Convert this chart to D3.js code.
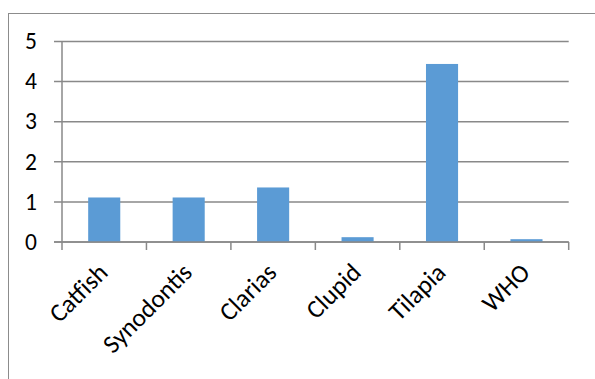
<!DOCTYPE html>
<script src="https://cdn.jsdelivr.net/npm/d3@7"></script>
<style>
  body{ margin:0; background:white; }
  text{ font-family: Carlito, "Open Sans", "Liberation Sans", sans-serif; fill:black; }
</style>
<body>
<script>
    var width = 595;
    var height = 379;

    // data
    var categories = ["Catfish", "Synodontis", "Clarias", "Clupid", "Tilapia", "WHO"];
    var values = [1.11, 1.11, 1.36, 0.12, 4.44, 0.07];
    var yTicks = [0, 1, 2, 3, 4, 5];

    var gridColor = "#898989";
    var barColor = "#5b9bd5";

    var svg = d3.select("body")
        .append("svg")
        .attr("width", width)
        .attr("height", height);

    // outer frame (cut off at right and bottom)
    svg.append("rect")
        .attr("x", 8.5)
        .attr("y", 13.5)
        .attr("width", 700)
        .attr("height", 500)
        .attr("fill", "none")
        .attr("stroke", "#8c8c8c")
        .attr("stroke-width", 1);

    var x = d3.scaleBand()
        .domain(categories)
        .range([62, 568.7])
        .paddingInner(0.62)
        .paddingOuter(0.31);

    var xBand = d3.scaleBand()
        .domain(categories)
        .range([62, 568.7]);

    var y = d3.scaleLinear()
        .domain([0, 5])
        .range([242, 41.5]);

    // gridlines
    svg.selectAll("line.grid")
        .data(yTicks)
        .enter().append("line")
        .attr("class", "grid")
        .attr("x1", 54)
        .attr("x2", 568.7)
        .attr("y1", function(d) {return y(d);})
        .attr("y2", function(d) {return y(d);})
        .attr("stroke", gridColor)
        .attr("stroke-width", 1.5);

    // y tick labels
    svg.selectAll("text.ylab")
        .data(yTicks)
        .enter().append("text")
        .attr("class", "ylab")
        .attr("x", 37)
        .attr("y", function(d) {return y(d);})
        .attr("dy", "0.33em")
        .attr("text-anchor", "end")
        .style("font-size", "23.5px")
        .text(function(d) {return d;});

    // bars
    svg.selectAll("rect.bar")
        .data(values)
        .enter().append("rect")
        .attr("class", "bar")
        .attr("x", function(d, i) {return x(categories[i]);})
        .attr("width", x.bandwidth())
        .attr("y", function(d) {return y(d);})
        .attr("height", function(d) {return y(0) - y(d);})
        .attr("fill", barColor);

    // y axis line
    svg.append("line")
        .attr("x1", 62).attr("x2", 62)
        .attr("y1", y(5)).attr("y2", y(0))
        .attr("stroke", gridColor)
        .attr("stroke-width", 1.5);

    // x axis line + ticks
    svg.append("line")
        .attr("x1", 54).attr("x2", 568.7)
        .attr("y1", y(0)).attr("y2", y(0))
        .attr("stroke", gridColor)
        .attr("stroke-width", 1.5);

    var tickPos = categories.map(function(c) {return xBand(c);}).concat([568.7]);
    svg.selectAll("line.xtick")
        .data(tickPos)
        .enter().append("line")
        .attr("class", "xtick")
        .attr("x1", function(d) {return d;})
        .attr("x2", function(d) {return d;})
        .attr("y1", y(0))
        .attr("y2", y(0) + 8)
        .attr("stroke", gridColor)
        .attr("stroke-width", 1.5);

    // rotated category labels
    svg.selectAll("text.xlab")
        .data(categories)
        .enter().append("text")
        .attr("class", "xlab")
        .attr("text-anchor", "end")
        .attr("transform", function(d) {
            return "translate(" + (xBand(d) + xBand.bandwidth() / 2 + 5) + "," + 274 + ") rotate(-45)";
        })
        .style("font-size", "25.5px")
        .text(function(d) {return d;});
</script>
</body>
